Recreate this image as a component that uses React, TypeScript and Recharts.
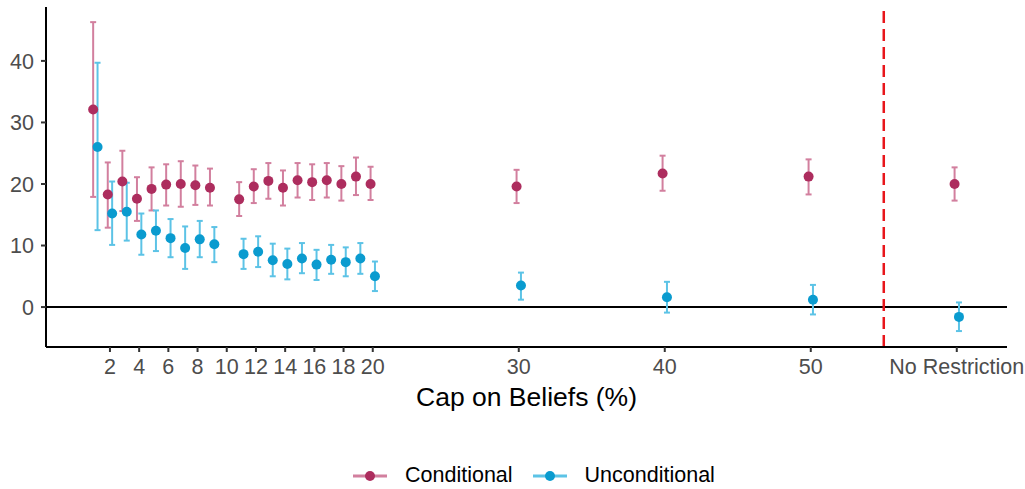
import {
  ErrorBar,
  ReferenceLine,
  Scatter,
  ScatterChart,
  XAxis,
  YAxis,
} from "recharts";

// cap on beliefs (%) – "No Restriction" sits at 60 on the axis
const caps = [1, 2, 3, 4, 5, 6, 7, 8, 9, 11, 12, 13, 14, 15, 16, 17, 18, 19, 20, 30, 40, 50, 60];

const condMean = [32.1, 18.3, 20.4, 17.6, 19.2, 19.9, 20.0, 19.8, 19.4, 17.5, 19.6, 20.5, 19.4, 20.6, 20.3, 20.6, 20.0, 21.2, 20.0, 19.6, 21.7, 21.2, 20.0];
const condLow = [17.9, 12.9, 15.6, 14.0, 15.7, 16.5, 16.3, 16.6, 16.5, 14.8, 16.9, 17.6, 16.5, 17.8, 17.4, 17.8, 17.3, 18.2, 17.4, 16.9, 18.9, 18.3, 17.3];
const condHigh = [46.3, 23.5, 25.4, 21.1, 22.7, 23.2, 23.7, 23.0, 22.5, 20.3, 22.4, 23.4, 22.2, 23.4, 23.2, 23.4, 22.9, 24.3, 22.8, 22.3, 24.6, 24.0, 22.7];

const uncMean = [26.0, 15.2, 15.5, 11.8, 12.4, 11.2, 9.6, 11.0, 10.2, 8.6, 9.0, 7.6, 7.0, 7.9, 6.9, 7.7, 7.3, 7.9, 5.0, 3.5, 1.6, 1.2, -1.6];
const uncLow = [12.5, 10.1, 10.8, 8.5, 9.1, 8.1, 6.2, 8.1, 7.3, 6.2, 6.5, 5.0, 4.5, 5.5, 4.4, 5.4, 5.0, 5.4, 2.6, 1.2, -0.9, -1.2, -3.9];
const uncHigh = [39.7, 20.4, 20.2, 15.2, 15.7, 14.3, 13.1, 14.0, 13.0, 11.1, 11.5, 10.3, 9.5, 10.4, 9.3, 10.1, 9.7, 10.4, 7.4, 5.6, 4.1, 3.6, 0.75];

const xTicks = [2, 4, 6, 8, 10, 12, 14, 16, 18, 20, 30, 40, 50, 60];
const xTickLabels = ["2", "4", "6", "8", "10", "12", "14", "16", "18", "20", "30", "40", "50", "No Restriction"];
const yTicks = [0, 10, 20, 30, 40];

const COND = "#AD2D5E";
const COND_BAR = "#D27F9E";
const UNC = "#0A9BCF";
const UNC_BAR = "#5CC3E6";
const FONT = "'Liberation Sans', Arial, Helvetica, sans-serif";
const DODGE = 0.15;

const build = (mean: number[], low: number[], high: number[], shift: number) =>
  caps.map((c, i) => ({
    x: c + shift,
    y: mean[i],
    err: [mean[i] - low[i], high[i] - mean[i]],
  }));

const condData = build(condMean, condLow, condHigh, -DODGE);
const uncData = build(uncMean, uncLow, uncHigh, DODGE);

const dot = (fill: string) => (props: any) =>
  <circle cx={props.cx} cy={props.cy} r={5} fill={fill} />;

const LegendKey = ({ line, fill, label }: { line: string; fill: string; label: string }) => (
  <div style={{ display: "flex", alignItems: "center", marginRight: 20 }}>
    <svg width={34} height={20}>
      <line x1={0} y1={10} x2={34} y2={10} stroke={line} strokeWidth={3} />
      <circle cx={17} cy={10} r={5} fill={fill} />
    </svg>
    <span style={{ marginLeft: 18, fontSize: 21.5, color: "#000" }}>{label}</span>
  </div>
);

export default function App() {
  return (
    <div style={{ position: "absolute", left: 0, top: 0, width: 1025, height: 489, background: "#fff", fontFamily: FONT }}>
      <ScatterChart width={1025} height={489} margin={{ top: 7, right: 18, bottom: 80, left: 0 }}>
        <XAxis
          dataKey="x"
          type="number"
          domain={[-2.38, 63.44]}
          allowDataOverflow
          ticks={xTicks}
          tickFormatter={(v: number) => xTickLabels[xTicks.indexOf(v)] ?? String(v)}
          interval={0}
          height={62}
          tickSize={5}
          tickMargin={7}
          axisLine={{ stroke: "#000", strokeWidth: 2 }}
          tickLine={{ stroke: "#333", strokeWidth: 2 }}
          tick={{ fill: "#4D4D4D", fontSize: 21.5, fontFamily: FONT }}
          label={{ value: "Cap on Beliefs (%)", position: "insideBottom", offset: 3.5, fill: "#000", fontSize: 26.5, fontFamily: FONT }}
        />
        <YAxis
          dataKey="y"
          type="number"
          domain={[-6.49, 48.76]}
          allowDataOverflow
          ticks={yTicks}
          width={46}
          tickSize={5}
          tickMargin={7}
          axisLine={{ stroke: "#000", strokeWidth: 2 }}
          tickLine={{ stroke: "#333", strokeWidth: 2 }}
          tick={{ fill: "#4D4D4D", fontSize: 21.5, fontFamily: FONT }}
        />
        <ReferenceLine y={0} stroke="#000" strokeWidth={2} />
        <ReferenceLine x={55} stroke="#E8161B" strokeWidth={2.5} strokeDasharray="12 6" />
        <Scatter name="Conditional" data={condData} shape={dot(COND)} isAnimationActive={false}>
          <ErrorBar dataKey="err" direction="y" width={3} stroke={COND_BAR} strokeWidth={2} isAnimationActive={false} />
        </Scatter>
        <Scatter name="Unconditional" data={uncData} shape={dot(UNC)} isAnimationActive={false}>
          <ErrorBar dataKey="err" direction="y" width={3} stroke={UNC_BAR} strokeWidth={2} isAnimationActive={false} />
        </Scatter>
      </ScatterChart>
      <div style={{ position: "absolute", left: 353, top: 463, display: "flex", alignItems: "center" }}>
        <LegendKey line={COND_BAR} fill={COND} label="Conditional" />
        <LegendKey line={UNC_BAR} fill={UNC} label="Unconditional" />
      </div>
    </div>
  );
}
